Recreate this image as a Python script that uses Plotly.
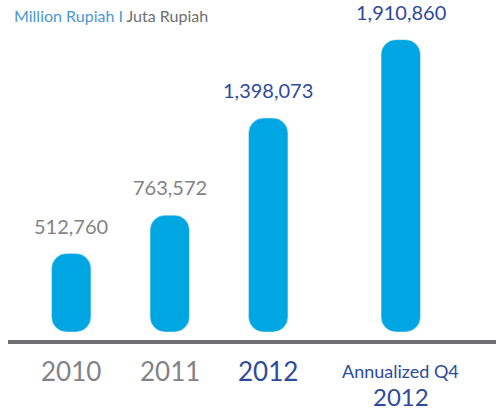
import plotly.graph_objects as go

# ---- data ----
categories = ["2010", "2011", "2012", "Annualized Q4 2012"]
values = [512760, 763572, 1398073, 1910860]
tick_main = ["2010", "2011", "2012", "2012"]
tick_sub = ["", "", "", "Annualized Q4"]
highlight = [False, False, True, True]

W, H = 496, 412
BAR_COLOR = "#00a6e2"
GREY = "#828386"
BLUE = "#2e4b9b"
FONT = "Lato"

fig = go.Figure()

def add_bars(cats, vals, xa):
    fig.add_trace(go.Bar(x=cats, y=[-v for v in vals], base=vals,
                         marker=dict(color=BAR_COLOR, cornerradius=15),
                         xaxis=xa, yaxis="y", hoverinfo="skip", showlegend=False))

add_bars(categories[:3], values[:3], "x")
add_bars(categories[3:], values[3:], "x2")

annotations = []
for i, (c, v) in enumerate(zip(categories, values)):
    xr = "x" if i < 3 else "x2"
    xi = i if i < 3 else 0
    col = BLUE if highlight[i] else GREY
    annotations.append(dict(x=xi, y=v, xref=xr, yref="y", text=f"{v:,}", showarrow=False,
                            yanchor="bottom", yshift=14, font=dict(family=FONT, size=20, color=col)))
    if tick_sub[i]:
        annotations.append(dict(x=xi, y=0, xref=xr, yref="y", text=tick_sub[i], showarrow=False,
                                yanchor="middle", yshift=-39, borderpad=0,
                                font=dict(family=FONT, size=18, color=col)))
        annotations.append(dict(x=xi, y=-80 / 332, xref=xr, yref="paper", text=tick_main[i],
                                showarrow=False, yanchor="bottom", borderpad=0,
                                font=dict(family=FONT, size=24, color=col)))
    else:
        annotations.append(dict(x=xi, y=0, xref=xr, yref="y", text=tick_main[i], showarrow=False,
                                yanchor="middle", yshift=-39, font=dict(family=FONT, size=26, color=col)))

annotations.append(dict(x=12 / W, y=1, xref="paper", yref="paper", xanchor="left", yanchor="middle",
                        yshift=-15,
                        text="<span style='color:#4b97d3'>Million Rupiah I</span> Juta Rupiah",
                        showarrow=False, font=dict(family=FONT, size=16, color="#6d6e71")))

fig.update_layout(
    width=W, height=H,
    margin=dict(l=0, r=0, t=0, b=80),
    paper_bgcolor="white", plot_bgcolor="white",
    barmode="overlay", bargap=0.6,
    xaxis=dict(domain=[22 / W, 317.5 / W], visible=False, range=[-0.5, 2.5], type="category"),
    xaxis2=dict(domain=[351.5 / W, 450 / W], visible=False, range=[-0.5, 0.5], anchor="y", type="category"),
    yaxis=dict(visible=False, range=[0, 2170000]),
    annotations=annotations,
    shapes=[dict(type="line", xref="paper", yref="paper", x0=8 / W, x1=1, y0=-10 / 332, y1=-10 / 332,
                 line=dict(color="#707073", width=4))],
)

fig.write_html("out.html")
